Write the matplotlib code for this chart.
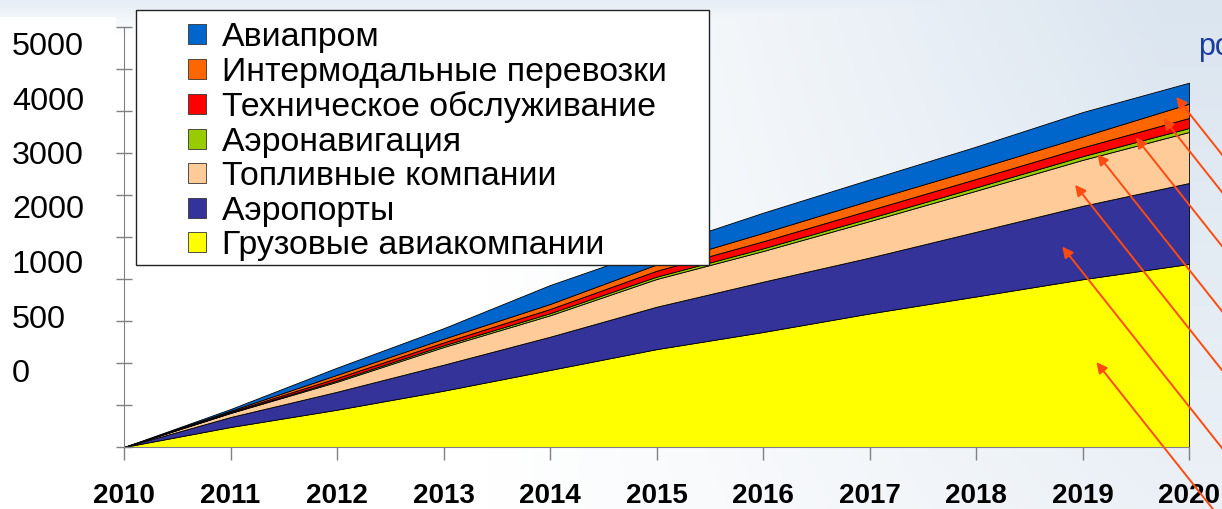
import matplotlib.pyplot as plt
from matplotlib.patches import Patch, Rectangle
import numpy as np

plt.rcParams['font.family'] = ['Liberation Sans', 'DejaVu Sans']

years = list(range(2010, 2021))

# layers, bottom to top
cargo = [0, 238, 444, 670, 917, 1165, 1369, 1590, 1792, 1997, 2179]
airports = [0, 119, 214, 310, 396, 505, 599, 665, 770, 874, 964]
fuel = [0, 48, 119, 210, 255, 330, 365, 434, 489, 547, 607]
air_nav = [0, 5, 15, 20, 25, 28, 32, 36, 40, 44, 48]
maintenance = [0, 10, 30, 35, 50, 70, 84, 95, 100, 105, 119]
intermodal = [0, 12, 38, 44, 60, 75, 100, 115, 120, 130, 170]
aviaprom = [0, 20, 85, 125, 225, 195, 240, 250, 265, 290, 250]

names = ["Грузовые авиакомпании", "Аэропорты", "Топливные компании",
         "Аэронавигация", "Техническое обслуживание",
         "Интермодальные перевозки", "Авиапром"]
colors = ["#FFFF00", "#333399", "#FFCC99", "#99CC00", "#FF0000", "#FF6600", "#0066CC"]

y_labels = ["5000", "4000", "3000", "2000", "1000", "500", "0"]

# where the pointer arrows land (year) for each layer
arrow_x = [2019.13, 2018.81, 2018.93, 2019.14, 2019.50, 2019.76, 2019.88]

layers = [cargo, airports, fuel, air_nav, maintenance, intermodal, aviaprom]

fig = plt.figure(figsize=(12.22, 5.09), dpi=100)

# soft slide background
bg = fig.add_axes([0, 0, 1, 1], zorder=-10)
H, W = 509, 1222
X, Y = np.meshgrid(np.linspace(0, 1, W), np.linspace(0, 1, H))
w = np.clip((X - 0.40) / 0.55, 0, 1) * (0.55 + 0.45 * (1 - Y))
w = np.maximum(w, np.clip((0.07 - Y) / 0.07, 0, 1) * 0.7)
light = np.array([0.86, 0.90, 0.94])
img = 1 - w[..., None] * (1 - light)
img[17:, :116] = 1.0
bg.imshow(img, aspect='auto', extent=(0, 1, 0, 1), origin='upper')
bg.axis('off')

ax = fig.add_axes([124 / 1222, 1 - 447 / 509, (1189 - 124) / 1222, (447 - 27) / 509])
ax.patch.set_alpha(0)
ax.stackplot(years, *layers, colors=colors, edgecolor='black', linewidth=0.6)
ax.set_xlim(2010, 2020)
ax.set_ylim(0, 5000)
ax.set_yticks(range(0, 5001, 500))
ax.set_yticklabels([])
ax.tick_params(axis='y', direction='inout', length=12, color='#808080', width=1)
ax.set_xticks(years)
ax.set_xticklabels([str(y) for y in years], fontweight='bold', fontsize=20)
ax.tick_params(axis='x', direction='out', length=9, color='#808080', width=1, pad=17)
for s in ['top', 'right']:
    ax.spines[s].set_visible(False)
for s in ['left', 'bottom']:
    ax.spines[s].set_color('#808080')

for i, t in enumerate(y_labels):
    fig.text(12 / 1222, 1 - (47 + i * 54.5) / 509, t, fontsize=23.3, va='center', ha='left')

# arrows pointing into each layer
cum = np.cumsum(np.array(layers, dtype=float), axis=0)
for i, xa in enumerate(arrow_x):
    top = np.interp(xa, years, cum[i])
    bottom = np.interp(xa, years, cum[i - 1]) if i > 0 else 0.0
    ax.annotate("", xy=(xa, (top + bottom) / 2), xytext=(230, -290),
                textcoords='offset pixels', annotation_clip=False,
                arrowprops=dict(arrowstyle='-|>', color='#FF4A10', lw=1.4,
                                mutation_scale=16, shrinkA=0, shrinkB=0))

fig.text(1198 / 1222, 1 - 47 / 509, "ро", fontsize=22, color='#1A3C9C', va='center')

# legend box
fig.add_artist(Rectangle((136 / 1222, 1 - 265 / 509), (709 - 136) / 1222, (265 - 10) / 509,
                         transform=fig.transFigure, facecolor='white',
                         edgecolor='#222222', linewidth=1, zorder=5))
handles = [Patch(facecolor=c, edgecolor='#333333', linewidth=0.6) for c in colors]
leg = fig.legend(handles[::-1], names[::-1], loc='upper left',
                 bbox_to_anchor=(188 / 1222, 1 - 22 / 509), frameon=False,
                 fontsize=24.4, handlelength=0.53, handleheight=0.53,
                 handletextpad=0.47, labelspacing=0.105, borderpad=0,
                 borderaxespad=0)
leg.set_zorder(6)

fig.savefig("out.png", dpi=100)
